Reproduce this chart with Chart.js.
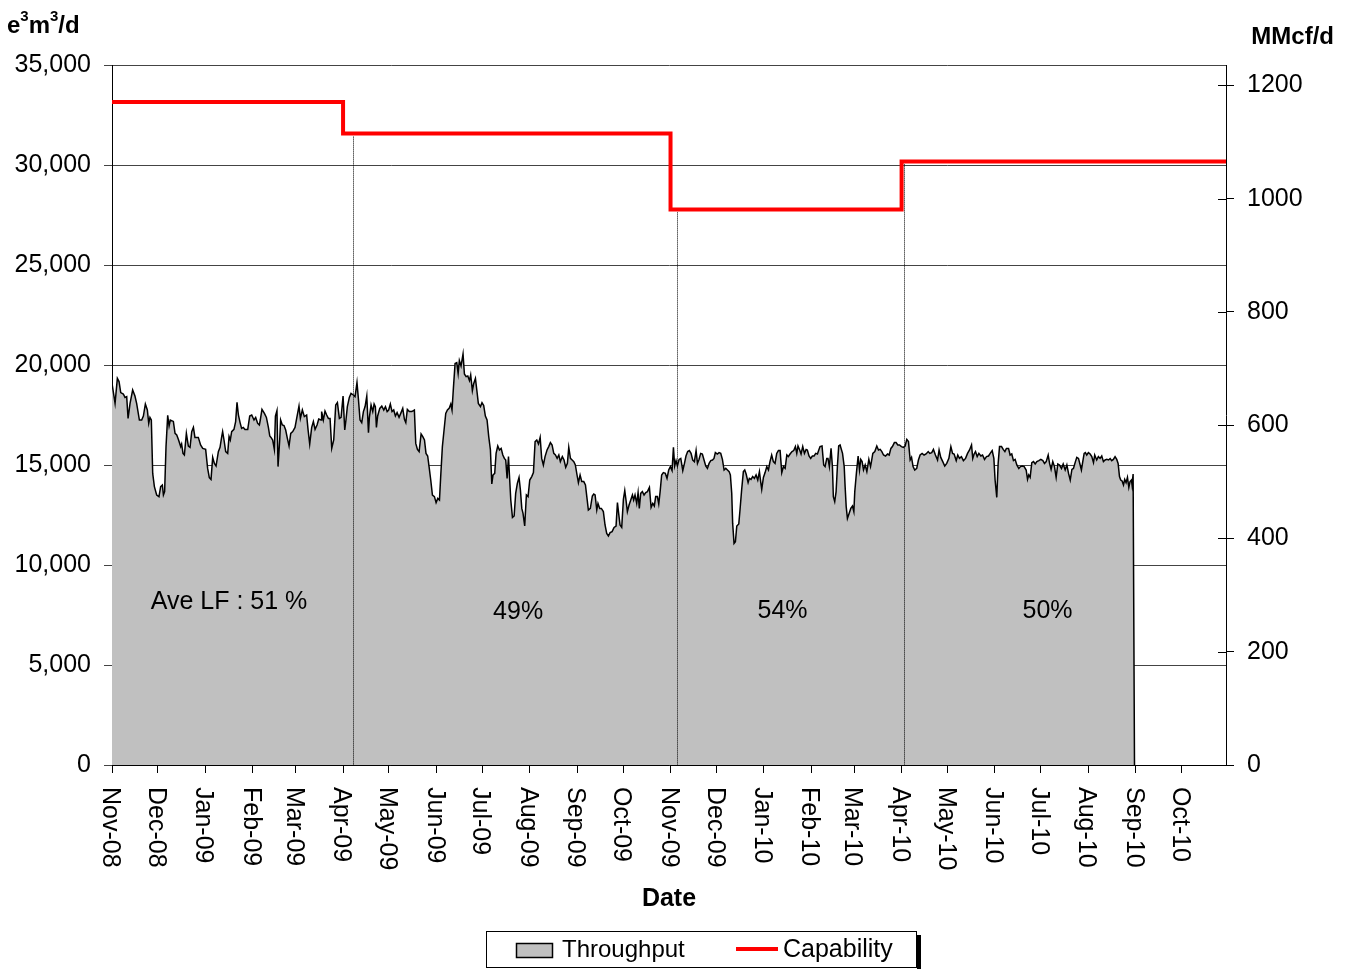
<!DOCTYPE html>
<html>
<head>
<meta charset="utf-8">
<title>Throughput vs Capability</title>
<script src="https://cdn.jsdelivr.net/npm/chart.js@4.4.1/dist/chart.umd.min.js"></script>
<style>
  html, body { margin:0; padding:0; background:#fff; }
  canvas { display:block; }
</style>
</head>
<body>
<canvas id="chart" width="1349" height="969"></canvas>
<script>
// Throughput vs capability, e3m3/d on the left, MMcf/d on the right.
// x values are days counted from 1 Nov 2008.

const monthLabels = ["Nov-08","Dec-08","Jan-09","Feb-09","Mar-09","Apr-09","May-09","Jun-09","Jul-09","Aug-09","Sep-09","Oct-09",
  "Nov-09","Dec-09","Jan-10","Feb-10","Mar-10","Apr-10","May-10","Jun-10","Jul-10","Aug-10","Sep-10","Oct-10"];

const throughputDays = [
  0,2.0,3.5,4.6,5.7,7.4,8.5,9.6,10.5,11.8,
  13.5,15.0,16.1,17.9,19.4,20.5,21.8,23.1,24.0,24.8,
  25.7,26.6,27.7,29.2,30.7,31.8,32.9,33.6,34.4,35.3,
  36.4,37.3,38.1,40.1,41.2,42.3,43.4,44.9,45.5,46.4,
  47.3,48.6,49.9,51.0,52.1,53.2,54.2,56.4,57.9,59.3,
  61.2,62.5,63.6,64.7,65.8,66.9,68.0,69.5,70.6,71.7,
  72.3,73.2,74.3,75.6,76.5,77.3,78.2,79.7,80.8,81.7,
  82.6,83.7,84.7,85.8,86.9,88.7,90.0,91.3,92.8,93.9,
  95.2,96.3,96.9,98.0,99.6,100.9,102.2,103.1,103.9,105.0,
  106.1,106.8,107.8,108.5,109.6,110.2,111.3,112.4,113.5,114.6,
  115.7,116.8,118.1,119.6,120.9,122.2,123.1,124.4,125.7,127.2,
  128.1,129.2,130.5,131.6,132.7,134.0,135.1,136.6,137.0,138.1,
  139.2,140.3,141.4,142.5,143.6,144.9,146.2,147.3,148.6,149.7,
  151.0,152.1,152.9,153.8,155.1,156.2,157.7,158.8,159.3,160.1,
  161.0,162.1,163.2,164.3,165.4,166.5,167.6,168.2,169.3,170.4,
  171.3,172.1,172.8,173.6,175.0,176.3,177.6,178.7,179.8,180.8,
  181.9,183.0,184.1,185.2,186.3,187.6,188.7,190.0,191.1,192.0,
  193.0,194.3,195.9,197.6,198.5,199.6,200.7,202.0,203.1,204.2,
  205.2,206.3,207.2,208.3,209.4,210.7,211.8,212.9,214.0,214.8,
  215.9,217.0,218.1,219.2,220.3,221.4,222.2,223.1,224.2,225.3,
  226.2,227.0,228.1,229.4,230.3,231.4,232.5,233.6,234.4,235.5,
  236.4,237.5,238.4,239.4,240.8,241.8,242.9,244.0,245.1,246.2,
  247.3,248.2,249.0,250.1,251.0,252.1,253.2,254.3,255.4,256.4,
  257.3,258.2,259.1,259.9,260.6,261.7,262.8,263.8,264.9,266.0,
  266.9,267.8,268.6,269.7,270.8,271.9,273.0,274.3,275.4,276.5,
  277.6,278.7,279.8,280.8,281.9,283.0,284.3,285.4,286.5,287.6,
  288.7,289.8,290.9,292.0,293.0,294.3,295.4,296.5,297.6,298.5,
  299.6,300.7,301.8,302.8,303.9,304.8,305.9,307.0,308.3,309.4,
  310.5,311.3,312.6,313.9,314.8,315.7,316.8,317.6,318.7,319.8,
  321.1,322.2,323.3,324.4,325.5,326.8,328.1,329.4,330.3,331.1,
  332.0,333.1,334.2,335.1,335.9,336.8,337.9,339.0,340.1,340.9,
  341.8,342.9,343.8,344.6,345.5,346.6,347.7,348.8,349.9,351.2,
  352.3,353.4,354.4,355.3,356.4,357.3,358.2,359.2,360.3,361.6,
  362.7,363.8,364.9,366.0,366.9,367.7,368.6,369.5,370.6,371.7,
  373.0,374.1,375.1,376.2,377.3,378.4,379.5,380.6,381.7,382.6,
  383.6,384.7,385.8,386.9,388.0,389.1,390.2,391.3,392.4,393.4,
  394.3,395.6,396.7,397.8,398.9,400.0,401.1,402.2,403.3,404.1,
  405.0,405.6,406.5,407.4,408.3,409.6,410.4,411.5,412.6,413.5,
  414.4,415.7,416.5,417.6,418.7,419.8,420.9,422.0,423.1,423.9,
  424.6,425.7,426.8,427.9,429.0,430.0,431.1,432.2,433.3,434.4,
  435.5,436.6,437.7,438.8,439.9,441.0,442.0,443.1,444.4,445.5,
  446.6,447.5,448.3,449.4,450.3,451.4,452.5,453.6,454.4,455.5,
  456.6,457.7,458.8,459.9,461.0,461.9,462.7,464.0,465.1,466.0,
  467.1,467.9,468.8,469.9,470.8,471.4,472.3,473.2,474.1,474.9,
  475.8,477.4,478.5,479.1,479.8,480.6,481.7,482.8,483.9,484.8,
  485.4,486.5,487.6,488.5,489.3,490.2,491.1,492.2,493.3,494.6,
  495.7,496.3,497.2,498.5,499.8,500.9,502.0,503.1,504.2,505.5,
  506.8,507.9,509.0,510.0,511.3,512.4,513.5,514.6,515.9,517.2,
  518.3,519.4,520.5,521.6,522.5,523.5,524.6,525.9,527.0,528.1,
  529.4,530.7,532.0,533.4,534.4,535.7,536.8,538.1,539.5,540.5,
  541.6,542.9,544.2,545.5,546.9,548.2,549.3,550.3,551.7,552.7,
  553.8,555.1,556.4,557.8,559.1,560.4,561.7,562.5,563.4,564.3,
  565.4,566.5,567.8,568.9,570.2,571.5,572.8,573.9,575.2,576.3,
  577.1,578.2,579.1,580.0,581.3,582.4,583.5,584.5,585.9,586.9,
  588.0,589.1,590.2,591.3,592.6,593.7,594.8,596.1,597.4,598.3,
  599.1,600.0,601.1,602.2,603.3,604.4,605.7,607.0,608.3,609.4,
  610.5,611.8,612.7,613.7,614.8,615.9,617.0,618.1,619.2,620.5,
  621.6,622.9,624.0,625.1,626.2,627.3,628.3,629.6,630.5,631.6,
  632.7,633.5,634.4,635.3,636.1,637.0,638.1,639.2,640.3,641.4,
  642.2,643.5,644.6,645.7,646.8,647.9,649.0,650.1,651.2,652.3,
  653.3,654.4,655.5,656.6,657.5,658.4,659.2,660.1,661.0,661.8,
  662.7,663.6,664.5,665.3,666.2,666.6,667.3,668.2
];

const throughputValues = [
  19080,18080,19330,19170,18620,18550,18380,18420,17330,18080,
  18750,18450,18080,17250,17250,17450,18050,17750,17080,17380,
  17250,14580,13920,13500,13420,13920,14000,13500,13670,15920,
  17480,16950,17250,17180,16580,16500,16280,15920,16050,15580,
  15500,16580,15950,15880,16670,16880,16380,16380,16000,15830,
  15780,14830,14370,14280,15380,15080,14950,15670,15880,16420,
  16670,16250,15670,15580,16420,16250,16670,16780,17170,18130,
  17500,17120,16830,16880,16780,16780,17450,17500,17250,17380,
  17080,17000,17250,17780,17580,17380,16880,16450,16380,16250,
  15780,17450,17720,14920,16250,17250,17000,16970,16750,16330,
  15950,16580,16670,16880,17420,17950,17330,17750,17420,17500,
  16780,16050,16880,17170,16780,17000,17300,17250,17670,17250,
  17700,17500,17330,17330,15830,16250,18000,18120,17330,17380,
  18450,16750,17250,17920,18380,18580,18500,18420,18670,19120,
  18330,17250,17120,17670,17920,18450,16620,17380,18000,17670,
  18050,17920,16880,17450,17830,17950,17750,17920,17670,17750,
  18050,17670,17750,17450,17620,17380,17580,17830,17280,17120,
  17780,17670,17670,17750,16080,15780,15670,16550,16420,16250,
  15580,15450,14920,14250,13500,13420,13120,13330,13250,14420,
  15920,16750,17580,17750,17830,18050,17750,18830,20080,20120,
  19580,20220,19950,20550,19550,19420,19450,19220,19500,18720,
  19080,19330,18750,18080,17920,18120,17980,17450,17250,16420,
  15750,14050,14500,14580,15580,15950,15750,15830,15500,15330,
  15250,14330,15420,14250,13250,12380,12450,13580,14080,14380,
  13750,12830,12580,11950,13500,13420,14250,14420,14620,16170,
  16250,16050,16380,15330,15000,15420,15750,15920,16120,16000,
  15580,15500,15330,15500,15170,15420,15250,14880,15080,15880,
  15330,15250,15170,15000,14500,14120,14500,14170,14170,14000,
  13280,12750,12830,13450,13550,13500,12750,13080,12830,12830,
  12670,12000,11580,11450,11620,11670,11880,11950,13120,12580,
  12000,11880,13280,13720,13250,12670,13000,13250,13500,13250,
  13500,13080,13620,12830,13580,13670,13500,13620,13670,13880,
  12880,13080,12950,13420,13420,13050,13670,14500,14620,14580,
  14330,14750,14920,14720,15880,14950,15220,14950,15280,15330,
  14720,15080,15450,15670,15720,15580,15250,15170,15720,15080,
  15280,15580,15550,15250,14950,14830,15080,15220,15250,15330,
  15620,15550,15620,15580,15280,14750,14830,14750,14670,14500,
  13580,12080,11080,11170,11950,12050,12750,13780,14670,14750,
  14550,14120,14330,14280,14420,14330,14500,14250,14670,14170,
  13780,14380,14620,14920,14750,15170,15500,15170,15080,15580,
  15720,15720,14620,14920,14830,15500,15420,15550,15670,15720,
  15920,15580,15950,15750,15550,15920,15580,15780,15750,15450,
  15330,15450,15450,15580,15550,15750,15920,15950,15000,14920,
  15330,15330,14920,15830,14920,13420,13170,13670,15000,15950,
  16000,15580,14920,13920,12920,12330,12580,12830,12950,12670,
  13670,14620,15450,14750,15280,15170,14750,15000,14670,15280,
  14920,15170,15580,15670,15950,15750,15780,15670,15500,15450,
  15550,15500,15830,15920,16120,16120,16000,16000,15920,15880,
  15950,16280,16170,15250,15380,14920,14750,14830,15250,15500,
  15580,15500,15550,15670,15580,15620,15780,15500,15250,15750,
  15380,15170,14950,15080,15330,15920,15580,15550,15220,15500,
  15330,15420,15220,15330,15580,15750,16000,15330,15550,15670,
  15420,15580,15450,15500,15280,15420,15450,15580,15720,15330,
  14250,13380,15080,15920,15920,15780,15670,15830,15830,15500,
  15550,15220,15280,15000,14830,14920,14950,14920,14750,14280,
  14500,14380,15120,15170,15050,15170,15220,15280,15220,15080,
  15170,15500,15080,14780,15170,14920,14380,15050,15000,14830,
  15050,14750,15000,14580,14250,14780,14830,15170,15380,15330,
  15000,14750,15170,15580,15620,15500,15620,15550,15420,15120,
  15500,15250,15420,15330,15450,15170,15250,15280,15250,15320,
  15220,15280,15420,15280,15080,14420,14250,14200,14000,14280,
  14120,14380,13880,14170,14250,14000,14550,0
];

// capability steps (level starts on that day)
const capabilityDays = [0, 151, 365, 516, 728];
const capabilityValues = [33150, 31570, 27780, 30180, 30180];

// dotted lines below the capability line
const markerDays = [157.7, 369.5, 517.8];

// load factor notes
const lfTexts = ["Ave LF : 51 %", "49%", "54%", "50%"];
const lfDays = [76.5, 265.4, 438.2, 611.4];
const lfValues = [8150, 7650, 7700, 7700];

const leftTicks = [0, 5000, 10000, 15000, 20000, 25000, 30000, 35000];
const rightTicks = [0, 200, 400, 600, 800, 1000, 1200];
const E3M3_TO_MMCF = 0.0353147;

const FONT = "'Liberation Sans', Arial, sans-serif";
const START = Date.UTC(2008, 10, 1);
const MON = {Jan:0,Feb:1,Mar:2,Apr:3,May:4,Jun:5,Jul:6,Aug:7,Sep:8,Oct:9,Nov:10,Dec:11};

function monthDay(label){
  const [m, y] = label.split("-");
  return Math.round((Date.UTC(2000 + Number(y), MON[m], 1) - START) / 86400000);
}
const monthDays = monthLabels.map(monthDay);

function capabilityAt(d){
  let v = capabilityValues[0];
  capabilityDays.forEach((cd, i) => { if (cd <= d) v = capabilityValues[i]; });
  return v;
}

const extras = {
  id: "extras",
  afterDatasetsDraw(chart){
    const {ctx, scales:{x, y}} = chart;
    ctx.save();
    ctx.strokeStyle = "#000";
    ctx.lineWidth = 1;
    ctx.setLineDash([1, 1]);
    markerDays.forEach(d => {
      const px = Math.round(x.getPixelForValue(d)) + 0.5;
      ctx.beginPath();
      ctx.moveTo(px, y.getPixelForValue(capabilityAt(d)) + 3);
      ctx.lineTo(px, y.getPixelForValue(0));
      ctx.stroke();
    });
    ctx.setLineDash([]);

    ctx.fillStyle = "#000";
    ctx.font = "25px " + FONT;
    ctx.textAlign = "center";
    ctx.textBaseline = "middle";
    lfTexts.forEach((t, i) => ctx.fillText(t, x.getPixelForValue(lfDays[i]), y.getPixelForValue(lfValues[i])));
    ctx.restore();
  },
  afterDraw(chart){
    const {ctx, chartArea, scales:{x, y2}} = chart;
    ctx.save();
    ctx.fillStyle = "#000";

    // month labels, turned clockwise
    ctx.font = "25px " + FONT;
    ctx.textAlign = "left";
    ctx.textBaseline = "middle";
    monthDays.forEach((d, i) => {
      ctx.save();
      ctx.translate(x.getPixelForValue(d) - 2, chartArea.bottom + 22);
      ctx.rotate(Math.PI / 2);
      ctx.fillText(monthLabels[i], 0, 0);
      ctx.restore();
    });

    // right axis ticks also reach into the plot
    ctx.strokeStyle = "#000";
    ctx.lineWidth = 1;
    rightTicks.forEach(v => {
      const py = Math.round(y2.getPixelForValue(v)) + 0.5;
      ctx.beginPath();
      ctx.moveTo(chartArea.right - 8, py);
      ctx.lineTo(chartArea.right, py);
      ctx.stroke();
    });

    // axis titles
    ctx.font = "bold 25px " + FONT;
    ctx.textAlign = "center";
    ctx.fillText("Date", (chartArea.left + chartArea.right) / 2, 899);

    ctx.textBaseline = "alphabetic";
    ctx.textAlign = "right";
    ctx.font = "bold 24px " + FONT;
    ctx.fillText("MMcf/d", 1334, 44);

    ctx.textAlign = "left";
    let tx = 7;
    [["e", false], ["3", true], ["m", false], ["3", true], ["/d", false]].forEach(([s, sup]) => {
      ctx.font = (sup ? "bold 15px " : "bold 24px ") + FONT;
      ctx.fillText(s, tx, sup ? 21 : 33);
      tx += ctx.measureText(s).width;
    });

    // legend box with a shadow on the right
    const ds = chart.data.datasets;
    ctx.fillRect(917, 935, 4, 34);
    ctx.fillStyle = "#fff";
    ctx.fillRect(487, 932, 430, 36);
    ctx.strokeStyle = "#000";
    ctx.strokeRect(486.5, 931.5, 430, 36);

    ctx.fillStyle = ds[1].backgroundColor;
    ctx.fillRect(516, 943, 37, 14);
    ctx.lineWidth = 1.5;
    ctx.strokeRect(516.5, 943.5, 36, 14);

    ctx.strokeStyle = ds[0].borderColor;
    ctx.lineWidth = 4;
    ctx.beginPath();
    ctx.moveTo(736, 949);
    ctx.lineTo(778, 949);
    ctx.stroke();

    ctx.fillStyle = "#000";
    ctx.font = "24px " + FONT;
    ctx.textBaseline = "middle";
    ctx.fillText(ds[1].label, 562, 950);
    ctx.font = "25px " + FONT;
    ctx.fillText(ds[0].label, 783, 950);
    ctx.restore();
  }
};

const tickFont = { family: FONT, size: 25 };

new Chart(document.getElementById("chart"), {
  type: "line",
  data: {
    datasets: [
      {
        label: "Capability",
        data: capabilityDays.map((d, i) => ({ x: d, y: capabilityValues[i] })),
        borderColor: "#ff0000",
        borderWidth: 4,
        stepped: true,
        pointRadius: 0,
        fill: false,
        yAxisID: "y"
      },
      {
        label: "Throughput",
        data: throughputDays.map((d, i) => ({ x: d, y: throughputValues[i] })),
        borderColor: "#000",
        borderWidth: 1.5,
        backgroundColor: "#c0c0c0",
        fill: "origin",
        pointRadius: 0,
        tension: 0,
        yAxisID: "y"
      }
    ]
  },
  options: {
    responsive: false,
    devicePixelRatio: 1,
    animation: false,
    layout: { padding: { top: 65, left: 0, right: 0, bottom: 0 } },
    plugins: { legend: { display: false }, tooltip: { enabled: false } },
    scales: {
      x: {
        type: "linear", min: 0, max: 728,
        afterBuildTicks: s => { s.ticks = monthDays.map(v => ({ value: v })); },
        afterFit: s => { s.height = 204; },
        grid: { drawOnChartArea: false, color: "#000", tickLength: 8 },
        border: { color: "#000" },
        ticks: { display: false }
      },
      y: {
        position: "left", min: 0, max: 35000,
        afterBuildTicks: s => { s.ticks = leftTicks.map(v => ({ value: v })); },
        afterFit: s => { s.width = 112; },
        grid: { color: "#444", tickLength: 8 },
        border: { color: "#000" },
        ticks: { color: "#000", font: tickFont, padding: 13, callback: v => v.toLocaleString("en-US") }
      },
      y2: {
        position: "right", min: 0, max: 35000 * E3M3_TO_MMCF,
        afterBuildTicks: s => { s.ticks = rightTicks.map(v => ({ value: v })); },
        afterFit: s => { s.width = 123; },
        grid: { drawOnChartArea: false, color: "#000", tickLength: 8 },
        border: { color: "#000" },
        ticks: { color: "#000", font: tickFont, padding: 13, callback: v => String(v) }
      }
    }
  },
  plugins: [extras]
});
</script>
</body>
</html>
